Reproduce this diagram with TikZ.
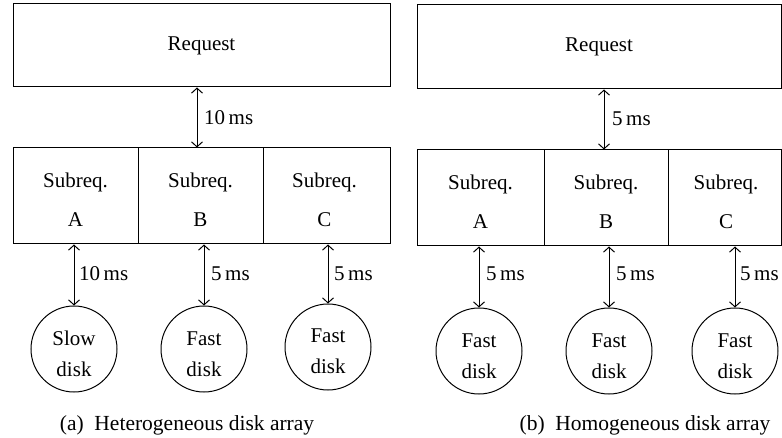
\documentclass[tikz,border=0pt]{standalone}
\usepackage{fontspec}
\setmainfont{Liberation Serif}
\usetikzlibrary{arrows.meta}
\begin{document}
\begin{tikzpicture}[x=1pt,y=-1pt,
  box/.style={draw, line width=1pt, rectangle, inner sep=0pt, font=\fontsize{21}{39}\selectfont, align=center},
  btxt/.style={inner sep=0pt, font=\fontsize{21}{39}\selectfont, align=center},
  disk/.style={draw, line width=1pt, circle, minimum size=86pt, inner sep=0pt},
  dtxt/.style={inner sep=0pt, font=\fontsize{21}{31}\selectfont, align=center},
  lat/.style={draw, line width=1pt, {Straight Barb[length=5pt,width=11pt]}-{Straight Barb[length=5pt,width=11pt]}},
  lbl/.style={anchor=west, font=\fontsize{21}{24}\selectfont, inner sep=0pt},
  captxt/.style={font=\fontsize{21.5}{24}\selectfont, inner sep=0pt}]
\useasboundingbox (0,0) rectangle (782,438);

% ---------- (a) heterogeneous ----------
\node[box, minimum width=377pt, minimum height=83pt] (ra) at (201.5,45.5) {Request};
\node[box, minimum width=125pt, minimum height=96pt] (saA) at (75.5,196) {};
\node[box, minimum width=125pt, minimum height=96pt] (saB) at (200.5,196) {};
\node[box, minimum width=127pt, minimum height=96pt] (saC) at (326.5,196) {};
\node[btxt] (xaA) at (75.5,200) {Subreq.\\A};
\node[btxt] (xaB) at (200.5,200) {Subreq.\\B};
\node[btxt] (xaC) at (324.5,200) {Subreq.\\C};
\coordinate (ta) at (197,0);
\draw[lat] (ra.south -| ta) -- (saB.north -| ta);
\node[lbl] (lta) at (204,118) {10\,ms};

\node[disk] (da1) at (74,349) {};
\node[disk] (da2) at (204,349) {};
\node[disk] (da3) at (328,347) {};
\node[dtxt] (ta1) at (74,354) {Slow\\disk};
\node[dtxt] (ta2) at (204,354) {Fast\\disk};
\node[dtxt] (ta3) at (328,351) {Fast\\disk};
\draw[lat] (da1.north |- saA.south) -- (da1.north);
\draw[lat] (da2.north |- saB.south) -- (da2.north);
\draw[lat] (da3.north |- saC.south) -- (da3.north);
\node[lbl] (la1) at (79,274) {10\,ms};
\node[lbl] (la2) at (211,274) {5\,ms};
\node[lbl] (la3) at (334,274) {5\,ms};

\node[captxt] (capa) at (187,425) {(a)\ \ Heterogeneous disk array};

% ---------- (b) homogeneous ----------
\node[box, minimum width=364pt, minimum height=84pt] (rb) at (599,47) {Request};
\node[box, minimum width=127pt, minimum height=96pt] (sbA) at (480.5,198) {};
\node[box, minimum width=124pt, minimum height=96pt] (sbB) at (606,198) {};
\node[box, minimum width=113pt, minimum height=96pt] (sbC) at (724.5,198) {};
\node[btxt] (xbA) at (480.5,202) {Subreq.\\A};
\node[btxt] (xbB) at (606,202) {Subreq.\\B};
\node[btxt] (xbC) at (726,202) {Subreq.\\C};
\coordinate (tb) at (604,0);
\draw[lat] (rb.south -| tb) -- (sbB.north -| tb);
\node[lbl] (ltb) at (612,119) {5\,ms};

\node[disk] (db1) at (479,351) {};
\node[disk] (db2) at (609,351) {};
\node[disk] (db3) at (735,351) {};
\node[dtxt] (tb1) at (479,356) {Fast\\disk};
\node[dtxt] (tb2) at (609,356) {Fast\\disk};
\node[dtxt] (tb3) at (735,356) {Fast\\disk};
\draw[lat] (db1.north |- sbA.south) -- (db1.north);
\draw[lat] (db2.north |- sbB.south) -- (db2.north);
\draw[lat] (db3.north |- sbC.south) -- (db3.north);
\node[lbl] (lb1) at (486,274) {5\,ms};
\node[lbl] (lb2) at (616,274) {5\,ms};
\node[lbl] (lb3) at (740,274) {5\,ms};

\node[captxt] (capb) at (645,425) {(b)\ \ Homogeneous disk array};
\end{tikzpicture}
\end{document}
